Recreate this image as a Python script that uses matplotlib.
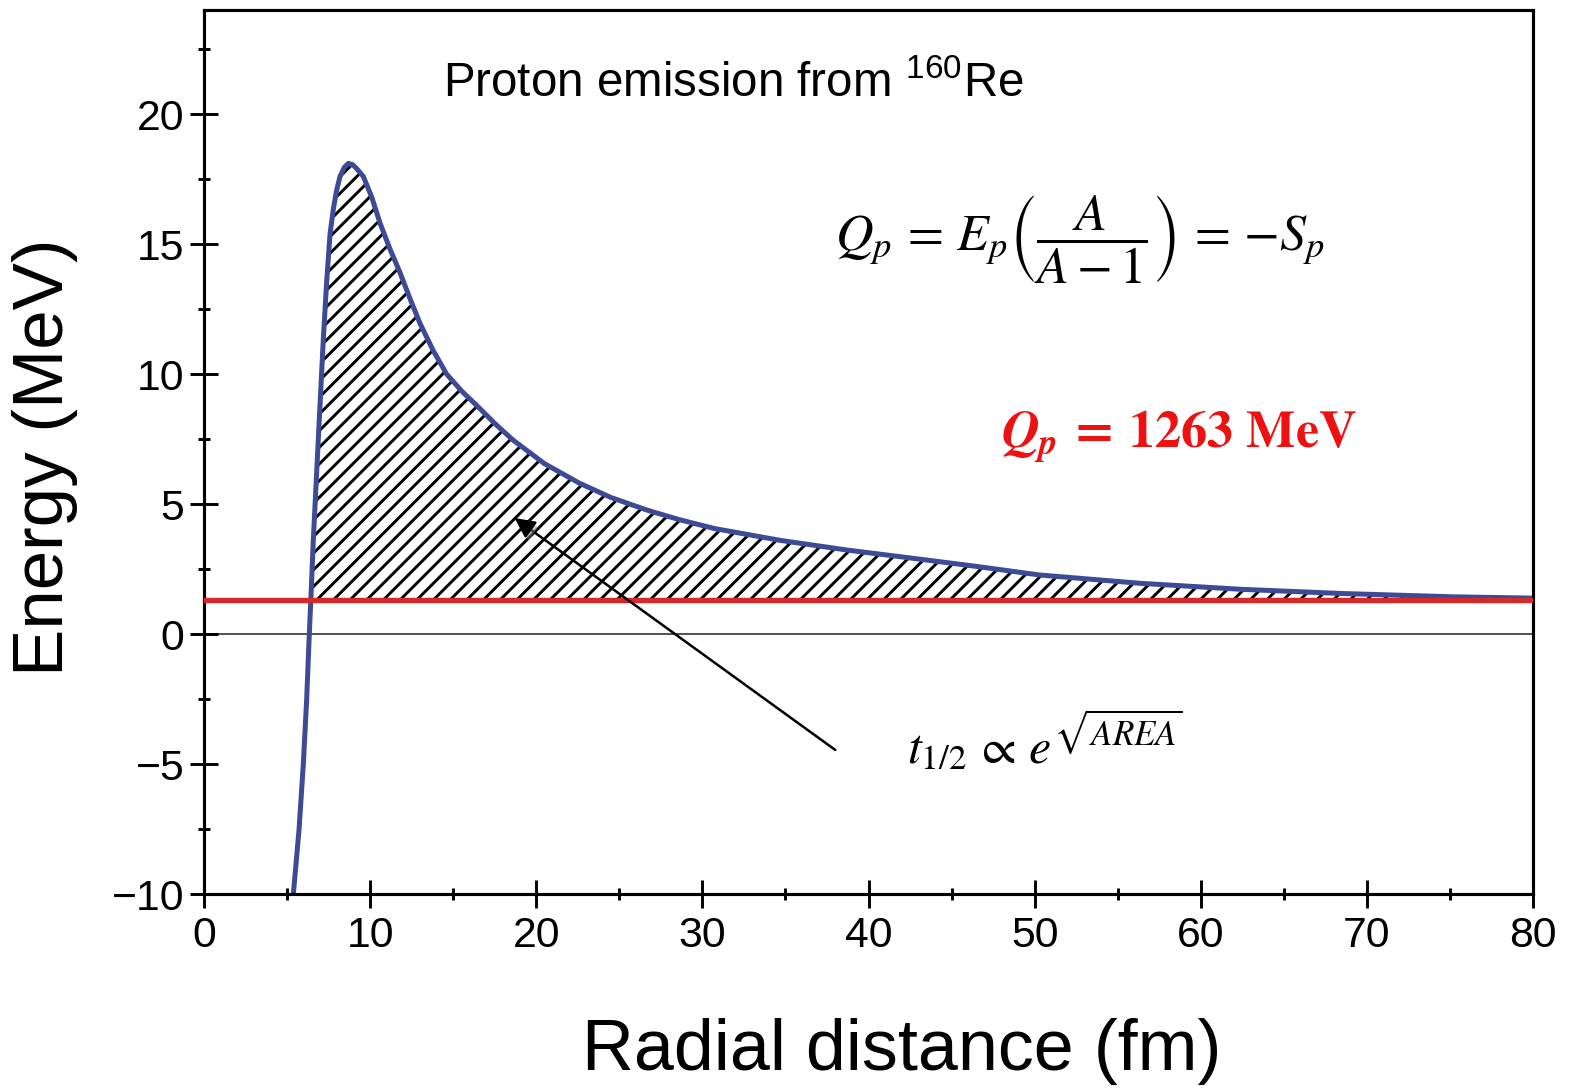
import matplotlib
matplotlib.use("Agg")
import matplotlib.pyplot as plt
import matplotlib.patheffects as pe
import numpy as np

# 读图得到的势垒曲线 (fm, MeV)
radius = [5.38, 5.72, 5.98, 6.18, 6.34, 6.44, 6.58, 6.88, 7.18, 7.38, 7.59, 7.8,
          7.99, 8.19, 8.45, 8.69, 8.95, 9.19, 9.59, 10.1, 10.6, 11.2, 11.8, 12.4,
          13.0, 13.8, 14.6, 15.5, 16.4, 17.5, 18.6, 20.5, 22.6, 24.5, 26.65, 28.6,
          30.7, 34.7, 38.7, 42.7, 46.5, 50.3, 56.35, 62.4, 68.4, 75.2, 80.0]
energy = [-10.0, -7.54, -5.0, -2.54, 0.0, 1.43, 3.6, 7.46, 11.3, 13.5, 15.4, 16.4,
          17.08, 17.6, 17.95, 18.1, 18.05, 17.9, 17.6, 16.8, 15.8, 14.8, 13.9, 12.9,
          11.95, 10.9, 10.0, 9.35, 8.8, 8.1, 7.46, 6.55, 5.8, 5.25, 4.77, 4.4,
          4.06, 3.6, 3.23, 2.91, 2.6, 2.27, 1.95, 1.72, 1.56, 1.43, 1.38]
q_level = 1.3

x_ticks = [0, 10, 20, 30, 40, 50, 60, 70, 80]
y_ticks = [-10, -5, 0, 5, 10, 15, 20]

plt.rcParams['font.family'] = ['Liberation Sans', 'DejaVu Sans']
plt.rcParams['hatch.linewidth'] = 1.4
plt.rcParams['hatch.color'] = 'black'
plt.rcParams['mathtext.fontset'] = 'custom'
plt.rcParams['mathtext.rm'] = 'STIXGeneral:bold'
plt.rcParams['mathtext.it'] = 'STIXGeneral:bold:italic'
plt.rcParams['mathtext.bf'] = 'STIXGeneral:bold'

fig = plt.figure(figsize=(1569 / 150, 1088 / 150), dpi=150)
ax = fig.add_axes([0.1300, 0.1783, 0.8471, 0.8125])

r = np.array(radius)
e = np.array(energy)

ax.fill_between(r, e, q_level, where=e >= q_level, interpolate=True,
                facecolor='none', edgecolor='black', hatch='///', linewidth=0, zorder=1)
ax.plot(r, e, color='#3d4a96', lw=2.4, zorder=2, solid_capstyle='round',
        solid_joinstyle='round')
ax.axhline(q_level, color='#d42a2a', lw=2.6, zorder=3)
ax.axhline(0, color='#333333', lw=0.8, zorder=1)

ax.set_xlim(0, 80)
ax.set_ylim(-10, 24)
ax.set_xticks(x_ticks)
ax.set_yticks(y_ticks)
ax.set_xticks(np.arange(5, 80, 10), minor=True)
ax.set_yticks(np.arange(-7.5, 24, 5), minor=True)
ax.tick_params(which='major', direction='inout', length=13, width=1.4, labelsize=20.5)
ax.tick_params(which='minor', direction='inout', length=6, width=1.4)
ax.tick_params(axis='y', which='major', pad=3)
ax.tick_params(axis='x', which='major', pad=4)
for s in ax.spines.values():
    s.set_linewidth(1.5)

ax.set_ylabel('Energy (MeV)', fontsize=34)
ax.yaxis.set_label_coords(-0.095, 0.494)
ax.set_xlabel('Radial distance (fm)', fontsize=34.5, va='top')
ax.xaxis.set_label_coords(0.525, -0.14)

ax.text(14.4, 20.65, r'Proton emission from $^{\mathregular{160}}$Re', fontsize=22.8,
        ha='left', va='baseline')
ax.text(52.7, 15.15, r'$Q_p\, =\, E_p\left(\dfrac{A}{A-1}\right)\, =\, {-}S_p$',
        math_fontfamily='stix', fontsize=25, ha='center', va='center')
ax.text(58.7, 7.58, r'$Q_p\,=\,\mathrm{1263\ MeV}$', math_fontfamily='custom',
        fontsize=25, color='#ee1111', ha='center', va='center')
ax.text(50.6, -4.1, r'$t_{1/2}\, \propto\, e^{\sqrt{AREA}}$', math_fontfamily='stix',
        fontsize=24, ha='center', va='center')

ann = ax.annotate('', xy=(18.7, 4.46), xytext=(38.0, -4.46),
                  arrowprops=dict(arrowstyle='-|>', color='black', lw=1.2,
                                  mutation_scale=20, shrinkA=0, shrinkB=0))
ann.arrow_patch.set_path_effects([pe.withSimplePatchShadow(offset=(1.5, -2),
                                                           shadow_rgbFace='gray', alpha=0.5)])

fig.savefig('out.png', dpi=150)
